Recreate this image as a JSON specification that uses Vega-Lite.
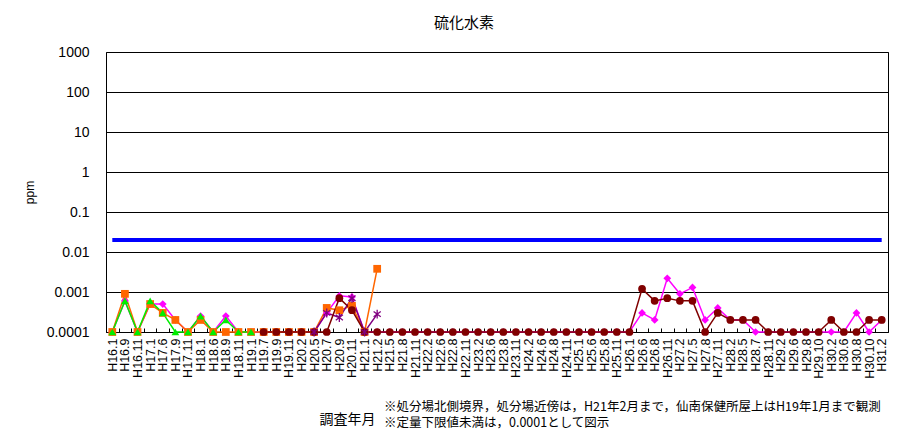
{
  "$schema": "https://vega.github.io/schema/vega-lite/v6.json",
  "padding": {"left": 22, "top": 15, "right": 10, "bottom": 0},
  "background": "white",
  "config": {"view": {"stroke": "black", "strokeWidth": 1}, "font": "Noto Sans CJK JP"},
  "title": {"text": ["※処分場北側境界，処分場近傍は，H21年2月まで，仙南保健所屋上はH19年1月まで観測", "※定量下限値未満は，0.0001として図示"], "orient": "bottom", "anchor": "start", "frame": "group", "dx": 278, "offset": -26, "fontSize": 12.5, "fontWeight": "normal", "lineHeight": 16, "font": "Noto Sans CJK JP", "color": "black"},
  "datasets": {
    "std": [
      {"d":"H16.1","v":0.02},{"d":"H16.9","v":0.02},{"d":"H16.11","v":0.02},{"d":"H17.1","v":0.02},{"d":"H17.6","v":0.02},{"d":"H17.9","v":0.02},{"d":"H17.11","v":0.02},{"d":"H18.1","v":0.02},{"d":"H18.6","v":0.02},{"d":"H18.9","v":0.02},{"d":"H18.11","v":0.02},{"d":"H19.1","v":0.02},{"d":"H19.7","v":0.02},{"d":"H19.9","v":0.02},{"d":"H19.11","v":0.02},{"d":"H20.2","v":0.02},{"d":"H20.5","v":0.02},{"d":"H20.7","v":0.02},{"d":"H20.9","v":0.02},{"d":"H20.11","v":0.02},{"d":"H21.1","v":0.02},{"d":"H21.2","v":0.02},{"d":"H21.5","v":0.02},{"d":"H21.8","v":0.02},{"d":"H21.11","v":0.02},{"d":"H22.2","v":0.02},{"d":"H22.6","v":0.02},{"d":"H22.8","v":0.02},{"d":"H22.11","v":0.02},{"d":"H23.2","v":0.02},{"d":"H23.6","v":0.02},{"d":"H23.8","v":0.02},{"d":"H23.11","v":0.02},{"d":"H24.2","v":0.02},{"d":"H24.6","v":0.02},{"d":"H24.8","v":0.02},{"d":"H24.11","v":0.02},{"d":"H25.1","v":0.02},{"d":"H25.6","v":0.02},{"d":"H25.8","v":0.02},{"d":"H25.11","v":0.02},{"d":"H26.1","v":0.02},{"d":"H26.6","v":0.02},{"d":"H26.8","v":0.02},{"d":"H26.11","v":0.02},{"d":"H27.2","v":0.02},{"d":"H27.5","v":0.02},{"d":"H27.8","v":0.02},{"d":"H27.11","v":0.02},{"d":"H28.2","v":0.02},{"d":"H28.5","v":0.02},{"d":"H28.7","v":0.02},{"d":"H28.11","v":0.02},{"d":"H29.2","v":0.02},{"d":"H29.6","v":0.02},{"d":"H29.8","v":0.02},{"d":"H29.10","v":0.02},{"d":"H30.2","v":0.02},{"d":"H30.6","v":0.02},{"d":"H30.8","v":0.02},{"d":"H30.10","v":0.02},{"d":"H31.2","v":0.02}
    ],
    "obs": [
      {"s":"系列1","d":"H16.1","v":0.0001},{"s":"系列1","d":"H16.9","v":0.0006},{"s":"系列1","d":"H16.11","v":0.0001},{"s":"系列1","d":"H17.1","v":0.0005},{"s":"系列1","d":"H17.6","v":0.0005},{"s":"系列1","d":"H17.9","v":0.0002},{"s":"系列1","d":"H17.11","v":0.0001},{"s":"系列1","d":"H18.1","v":0.00025},{"s":"系列1","d":"H18.6","v":0.0001},{"s":"系列1","d":"H18.9","v":0.00025},{"s":"系列1","d":"H18.11","v":0.0001},{"s":"系列1","d":"H19.1","v":0.0001},{"s":"系列1","d":"H19.7","v":0.0001},{"s":"系列1","d":"H19.9","v":0.0001},{"s":"系列1","d":"H19.11","v":0.0001},{"s":"系列1","d":"H20.2","v":0.0001},{"s":"系列1","d":"H20.5","v":0.0001},{"s":"系列1","d":"H20.7","v":0.0003},{"s":"系列1","d":"H20.9","v":0.0008},{"s":"系列1","d":"H20.11","v":0.00075},{"s":"系列1","d":"H21.1","v":0.0001},{"s":"系列1","d":"H21.2","v":0.0001},{"s":"系列1","d":"H21.5","v":0.0001},{"s":"系列1","d":"H21.8","v":0.0001},{"s":"系列1","d":"H21.11","v":0.0001},{"s":"系列1","d":"H22.2","v":0.0001},{"s":"系列1","d":"H22.6","v":0.0001},{"s":"系列1","d":"H22.8","v":0.0001},{"s":"系列1","d":"H22.11","v":0.0001},{"s":"系列1","d":"H23.2","v":0.0001},{"s":"系列1","d":"H23.6","v":0.0001},{"s":"系列1","d":"H23.8","v":0.0001},{"s":"系列1","d":"H23.11","v":0.0001},{"s":"系列1","d":"H24.2","v":0.0001},{"s":"系列1","d":"H24.6","v":0.0001},{"s":"系列1","d":"H24.8","v":0.0001},{"s":"系列1","d":"H24.11","v":0.0001},{"s":"系列1","d":"H25.1","v":0.0001},{"s":"系列1","d":"H25.6","v":0.0001},{"s":"系列1","d":"H25.8","v":0.0001},{"s":"系列1","d":"H25.11","v":0.0001},{"s":"系列1","d":"H26.1","v":0.0001},{"s":"系列1","d":"H26.6","v":0.0003},{"s":"系列1","d":"H26.8","v":0.0002},{"s":"系列1","d":"H26.11","v":0.0022},{"s":"系列1","d":"H27.2","v":0.0009},{"s":"系列1","d":"H27.5","v":0.0013},{"s":"系列1","d":"H27.8","v":0.0002},{"s":"系列1","d":"H27.11","v":0.0004},{"s":"系列1","d":"H28.2","v":0.0002},{"s":"系列1","d":"H28.5","v":0.0002},{"s":"系列1","d":"H28.7","v":0.0001},{"s":"系列1","d":"H28.11","v":0.0001},{"s":"系列1","d":"H29.2","v":0.0001},{"s":"系列1","d":"H29.6","v":0.0001},{"s":"系列1","d":"H29.8","v":0.0001},{"s":"系列1","d":"H29.10","v":0.0001},{"s":"系列1","d":"H30.2","v":0.0001},{"s":"系列1","d":"H30.6","v":0.0001},{"s":"系列1","d":"H30.8","v":0.0003},{"s":"系列1","d":"H30.10","v":0.0001},{"s":"系列1","d":"H31.2","v":0.0002},
      {"s":"系列2","d":"H16.1","v":0.0001},{"s":"系列2","d":"H16.9","v":0.0009},{"s":"系列2","d":"H16.11","v":0.0001},{"s":"系列2","d":"H17.1","v":0.0005},{"s":"系列2","d":"H17.6","v":0.0003},{"s":"系列2","d":"H17.9","v":0.0002},{"s":"系列2","d":"H17.11","v":0.0001},{"s":"系列2","d":"H18.1","v":0.0002},{"s":"系列2","d":"H18.6","v":0.0001},{"s":"系列2","d":"H18.9","v":0.0001},{"s":"系列2","d":"H18.11","v":0.0001},{"s":"系列2","d":"H19.1","v":0.0001},{"s":"系列2","d":"H19.7","v":0.0001},{"s":"系列2","d":"H19.9","v":0.0001},{"s":"系列2","d":"H19.11","v":0.0001},{"s":"系列2","d":"H20.2","v":0.0001},{"s":"系列2","d":"H20.5","v":0.0001},{"s":"系列2","d":"H20.7","v":0.0004},{"s":"系列2","d":"H20.9","v":0.00035},{"s":"系列2","d":"H20.11","v":0.00045},{"s":"系列2","d":"H21.1","v":0.0001},{"s":"系列2","d":"H21.2","v":0.0038},
      {"s":"系列3","d":"H20.5","v":0.0001},{"s":"系列3","d":"H20.7","v":0.0003},{"s":"系列3","d":"H20.9","v":0.00023},{"s":"系列3","d":"H20.11","v":0.0007},{"s":"系列3","d":"H21.1","v":0.0001},{"s":"系列3","d":"H21.2","v":0.00028},
      {"s":"系列4","d":"H16.1","v":0.0001},{"s":"系列4","d":"H16.9","v":0.0006},{"s":"系列4","d":"H16.11","v":0.0001},{"s":"系列4","d":"H17.1","v":0.0006},{"s":"系列4","d":"H17.6","v":0.0003},{"s":"系列4","d":"H17.9","v":0.0001},{"s":"系列4","d":"H17.11","v":0.0001},{"s":"系列4","d":"H18.1","v":0.00025},{"s":"系列4","d":"H18.6","v":0.0001},{"s":"系列4","d":"H18.9","v":0.0002},{"s":"系列4","d":"H18.11","v":0.0001},{"s":"系列4","d":"H19.1","v":0.0001},
      {"s":"系列5","d":"H19.7","v":0.0001},{"s":"系列5","d":"H19.9","v":0.0001},{"s":"系列5","d":"H19.11","v":0.0001},{"s":"系列5","d":"H20.2","v":0.0001},{"s":"系列5","d":"H20.5","v":0.0001},{"s":"系列5","d":"H20.7","v":0.0001},{"s":"系列5","d":"H20.9","v":0.0007},{"s":"系列5","d":"H20.11","v":0.00035},{"s":"系列5","d":"H21.1","v":0.0001},{"s":"系列5","d":"H21.2","v":0.0001},{"s":"系列5","d":"H21.5","v":0.0001},{"s":"系列5","d":"H21.8","v":0.0001},{"s":"系列5","d":"H21.11","v":0.0001},{"s":"系列5","d":"H22.2","v":0.0001},{"s":"系列5","d":"H22.6","v":0.0001},{"s":"系列5","d":"H22.8","v":0.0001},{"s":"系列5","d":"H22.11","v":0.0001},{"s":"系列5","d":"H23.2","v":0.0001},{"s":"系列5","d":"H23.6","v":0.0001},{"s":"系列5","d":"H23.8","v":0.0001},{"s":"系列5","d":"H23.11","v":0.0001},{"s":"系列5","d":"H24.2","v":0.0001},{"s":"系列5","d":"H24.6","v":0.0001},{"s":"系列5","d":"H24.8","v":0.0001},{"s":"系列5","d":"H24.11","v":0.0001},{"s":"系列5","d":"H25.1","v":0.0001},{"s":"系列5","d":"H25.6","v":0.0001},{"s":"系列5","d":"H25.8","v":0.0001},{"s":"系列5","d":"H25.11","v":0.0001},{"s":"系列5","d":"H26.1","v":0.0001},{"s":"系列5","d":"H26.6","v":0.0012},{"s":"系列5","d":"H26.8","v":0.0006},{"s":"系列5","d":"H26.11","v":0.0007},{"s":"系列5","d":"H27.2","v":0.0006},{"s":"系列5","d":"H27.5","v":0.0006},{"s":"系列5","d":"H27.8","v":0.0001},{"s":"系列5","d":"H27.11","v":0.0003},{"s":"系列5","d":"H28.2","v":0.0002},{"s":"系列5","d":"H28.5","v":0.0002},{"s":"系列5","d":"H28.7","v":0.0002},{"s":"系列5","d":"H28.11","v":0.0001},{"s":"系列5","d":"H29.2","v":0.0001},{"s":"系列5","d":"H29.6","v":0.0001},{"s":"系列5","d":"H29.8","v":0.0001},{"s":"系列5","d":"H29.10","v":0.0001},{"s":"系列5","d":"H30.2","v":0.0002},{"s":"系列5","d":"H30.6","v":0.0001},{"s":"系列5","d":"H30.8","v":0.0001},{"s":"系列5","d":"H30.10","v":0.0002},{"s":"系列5","d":"H31.2","v":0.0002}
    ]
  },
  "vconcat": [
    {
      "width": 782,
      "height": 280,
      "title": {"text": "硫化水素", "fontSize": 15, "fontWeight": "normal", "offset": 14, "dx": -33, "anchor": "middle", "color": "black", "font": "Noto Sans CJK JP"},
      "encoding": {
        "x": {
          "field": "d", "type": "nominal", "bandPosition": 0.5,
          "scale": {"type": "band", "paddingInner": 0, "paddingOuter": 0, "domain": ["H16.1","H16.9","H16.11","H17.1","H17.6","H17.9","H17.11","H18.1","H18.6","H18.9","H18.11","H19.1","H19.7","H19.9","H19.11","H20.2","H20.5","H20.7","H20.9","H20.11","H21.1","H21.2","H21.5","H21.8","H21.11","H22.2","H22.6","H22.8","H22.11","H23.2","H23.6","H23.8","H23.11","H24.2","H24.6","H24.8","H24.11","H25.1","H25.6","H25.8","H25.11","H26.1","H26.6","H26.8","H26.11","H27.2","H27.5","H27.8","H27.11","H28.2","H28.5","H28.7","H28.11","H29.2","H29.6","H29.8","H29.10","H30.2","H30.6","H30.8","H30.10","H31.2"]},
          "title": "調査年月",
          "axis": {"labelAngle": -90, "labelFontSize": 12.5, "labelFont": "Liberation Sans", "labelColor": "black", "labelOverlap": false, "labelPadding": 10, "tickBand": "extent", "ticks": true, "tickSize": -4, "tickColor": "black", "domain": false, "grid": false, "titleX": 241, "titleY": 87, "titleBaseline": "middle", "titleAlign": "center", "titleFontSize": 14, "titleFont": "Noto Sans CJK JP", "titleFontWeight": "normal", "titleColor": "black"}
        },
        "y": {
          "field": "v", "type": "quantitative",
          "scale": {"type": "log", "domain": [0.0001, 1000], "nice": false},
          "title": "ppm",
          "axis": {"values": [0.0001, 0.001, 0.01, 0.1, 1, 10, 100, 1000], "format": "~g", "labelFontSize": 14, "labelFont": "Liberation Sans", "labelColor": "black", "labelPadding": 17, "ticks": false, "domain": false, "grid": true, "gridColor": "black", "gridOpacity": 1, "gridWidth": 1, "titleFontSize": 12, "titleFont": "Liberation Sans", "titleFontWeight": "normal", "titlePadding": 10, "titleColor": "black"}
        }
      },
      "layer": [
        {"data": {"name": "std"}, "mark": {"type": "line", "color": "#0000FF", "strokeWidth": 4}},
        {"data": {"name": "obs"}, "mark": {"type": "line", "strokeWidth": 1.5},
         "encoding": {"color": {"field": "s", "type": "nominal", "legend": null, "scale": {"domain": ["系列1","系列2","系列3","系列4","系列5"], "range": ["#FF00FF","#FF6600","#800080","#00EE00","#800000"]}}}},
        {"data": {"name": "obs"}, "transform": [{"filter": "datum.s !== '系列3'"}],
         "mark": {"type": "point", "filled": true, "opacity": 1, "size": 60},
         "encoding": {
           "color": {"field": "s", "type": "nominal", "legend": null},
           "shape": {"field": "s", "type": "nominal", "legend": null, "scale": {"domain": ["系列1","系列2","系列3","系列4","系列5"], "range": ["diamond","square","M0,-1L0,1M-0.8,-0.6L0.8,0.6M-0.8,0.6L0.8,-0.6","triangle-up","circle"]}}
         }},
        {"data": {"name": "obs"}, "transform": [{"filter": "datum.s === '系列3'"}],
         "mark": {"type": "point", "filled": false, "opacity": 1, "size": 80, "strokeWidth": 1.3},
         "encoding": {
           "color": {"field": "s", "type": "nominal", "legend": null},
           "shape": {"field": "s", "type": "nominal", "legend": null}
         }}
      ]
    }
  ]
}
